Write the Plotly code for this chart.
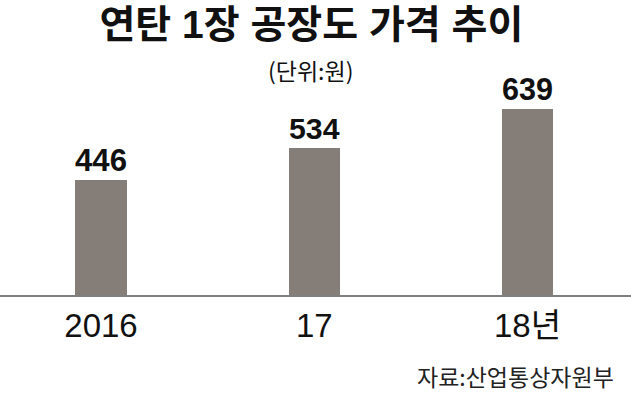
import plotly.graph_objects as go

categories = ["2016", "17", "18년"]
values = [446, 534, 639]
value_labels = ["446", "534", "639"]

title_text = "연탄 1장 공장도 가격 추이"
unit_text = "(단위:원)"
source_text = "자료:산업통상자원부"

W, H = 631, 393
M_TOP, M_BOT = 100, 98
PLOT_H = H - M_TOP - M_BOT
NUM_FONT = "Liberation Sans Narrow, Arial Narrow, Liberation Sans, Arial, Noto Sans CJK KR, sans-serif"
KR_FONT = "Noto Sans CJK KR, sans-serif"
TITLE_FONT = "Liberation Sans, Noto Sans CJK KR, sans-serif"


def py_to_paper(py):
    return (H - M_BOT - py) / PLOT_H


x_pos = list(range(len(categories)))

fig = go.Figure()
fig.add_trace(go.Bar(
    x=x_pos,
    y=values,
    width=0.2415,
    marker=dict(color="#857e78", line=dict(width=0)),
    text=value_labels,
    textposition="outside",
    textfont=dict(family=NUM_FONT, size=35, color="#111111", weight="bold"),
    cliponaxis=False,
    hoverinfo="skip",
))

fig.update_layout(
    width=W, height=H,
    margin=dict(l=0, r=0, t=M_TOP, b=M_BOT),
    paper_bgcolor="white",
    plot_bgcolor="white",
    showlegend=False,
    bargap=0,
    title=dict(
        text="<b>" + title_text + "</b>",
        x=0.4935, xanchor="center",
        y=1 - 24 / H, yanchor="middle",
        font=dict(family=TITLE_FONT, size=39, color="#111111"),
    ),
    xaxis=dict(
        range=[-0.4736, 2.4853],
        tickmode="array",
        tickvals=x_pos,
        ticktext=categories,
        tickfont=dict(family=NUM_FONT, size=33, color="#111111"),
        showgrid=False,
        zeroline=False,
        showline=True,
        linecolor="#7f7f7f",
        linewidth=2,
        ticks="",
        fixedrange=True,
    ),
    yaxis=dict(
        range=[131.6, 663.8],
        visible=False,
        showgrid=False,
        zeroline=False,
        fixedrange=True,
    ),
    annotations=[
        dict(
            text=unit_text, xref="paper", yref="paper",
            x=310 / W, y=py_to_paper(70), xanchor="center", yanchor="middle",
            showarrow=False,
            font=dict(family=KR_FONT, size=23, color="#111111"),
        ),
        dict(
            text=source_text, xref="paper", yref="paper",
            x=616 / W, y=py_to_paper(376), xanchor="right", yanchor="middle",
            showarrow=False,
            font=dict(family=KR_FONT, size=23, color="#222222"),
        ),
    ],
)

fig.write_html("out.html")
